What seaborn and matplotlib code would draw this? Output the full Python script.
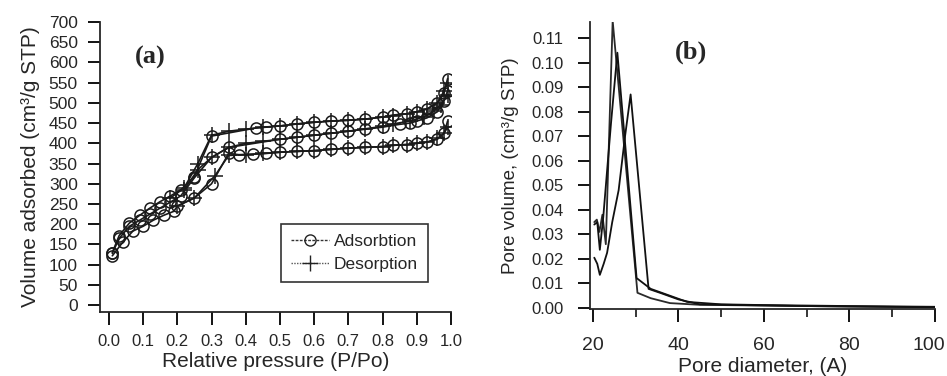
import numpy as np
import pandas as pd
import matplotlib
matplotlib.use("Agg")
import matplotlib.pyplot as plt
import matplotlib.transforms as mtransforms
import seaborn as sns
from matplotlib.lines import Line2D

# ---------------- data: panel (a) isotherms ----------------
s1_ads_p = [0.01, 0.03, 0.06, 0.09, 0.12, 0.15, 0.18, 0.21, 0.25, 0.30, 0.43, 0.46, 0.50, 0.55,
            0.60, 0.65, 0.70, 0.75, 0.80, 0.83, 0.87, 0.90, 0.93, 0.96, 0.98, 0.99]
s1_ads_v = [130, 172, 203, 222, 240, 256, 270, 285, 318, 418, 438, 440, 443, 448,
            452, 455, 457, 460, 465, 470, 473, 478, 485, 500, 525, 560]
s1_des_p = [0.99, 0.98, 0.96, 0.93, 0.90, 0.87, 0.83, 0.80, 0.75, 0.70, 0.65, 0.60, 0.55,
            0.50, 0.45, 0.40, 0.35, 0.30, 0.26, 0.22, 0.18]
s1_des_v = [550, 530, 500, 485, 478, 473, 468, 465, 460, 457, 455, 452, 448,
            443, 440, 435, 430, 420, 350, 290, 265]

s2_ads_p = [0.01, 0.03, 0.06, 0.09, 0.12, 0.15, 0.18, 0.21, 0.25, 0.30, 0.35, 0.50, 0.55,
            0.60, 0.65, 0.70, 0.75, 0.80, 0.85, 0.88, 0.90, 0.93, 0.96, 0.98, 0.99]
s2_ads_v = [128, 165, 195, 210, 225, 240, 255, 270, 315, 365, 390, 410, 415,
            420, 425, 430, 435, 440, 447, 450, 455, 463, 478, 505, 530]
s2_des_p = [0.99, 0.97, 0.95, 0.92, 0.88, 0.83, 0.80, 0.75, 0.70, 0.65, 0.60, 0.55, 0.50,
            0.45, 0.40, 0.35, 0.30, 0.26, 0.22]
s2_des_v = [520, 495, 480, 465, 455, 448, 442, 436, 430, 425, 420, 415, 410,
            405, 400, 390, 365, 335, 285]

s3_ads_p = [0.01, 0.04, 0.07, 0.10, 0.13, 0.16, 0.19, 0.20, 0.25, 0.30, 0.35, 0.38, 0.42,
            0.46, 0.50, 0.55, 0.60, 0.65, 0.70, 0.75, 0.80, 0.83, 0.87, 0.90, 0.93, 0.96,
            0.98, 0.99]
s3_ads_v = [122, 155, 183, 195, 210, 222, 232, 245, 265, 300, 375, 372, 373,
            375, 378, 380, 382, 385, 388, 390, 392, 395, 397, 400, 403, 410,
            425, 455]
s3_des_p = [0.99, 0.98, 0.96, 0.93, 0.90, 0.87, 0.83, 0.80, 0.75, 0.70, 0.65, 0.60, 0.55,
            0.50, 0.45, 0.40, 0.35, 0.31, 0.25, 0.20]
s3_des_v = [440, 425, 412, 403, 400, 397, 395, 392, 390, 388, 385, 382, 380,
            378, 375, 372, 370, 320, 265, 245]

# ---------------- data: panel (b) pore size distributions ----------------
b1_d = [20.3, 20.9, 21.5, 22.2, 23.0, 24.6, 30.4, 33.5, 38.0, 45.0, 60.0, 80.0, 100.0]
b1_v = [0.035, 0.036, 0.031, 0.038, 0.026, 0.117, 0.0062, 0.0040, 0.0020, 0.0013, 0.0010, 0.0006, 0.0004]
b2_d = [20.3, 21.0, 21.6, 22.4, 24.2, 25.7, 30.2, 33.5, 38.0, 42.0, 50.0, 60.0, 80.0, 100.0]
b2_v = [0.034, 0.035, 0.0237, 0.037, 0.075, 0.104, 0.0122, 0.0078, 0.0050, 0.0025, 0.0015, 0.0012, 0.0008, 0.0005]
b3_d = [20.3, 21.0, 21.6, 22.5, 23.3, 24.5, 26.0, 27.5, 28.8, 33.0, 36.0, 40.0, 45.0, 55.0, 70.0, 100.0]
b3_v = [0.0205, 0.018, 0.0135, 0.018, 0.0225, 0.035, 0.048, 0.070, 0.087, 0.0078, 0.0060, 0.0035, 0.0015, 0.0012, 0.0008, 0.0003]

a_yticks = list(range(0, 701, 50))
a_xticks = [round(0.1 * i, 1) for i in range(11)]
b_yticks = [round(0.01 * i, 2) for i in range(12)]
b_xticks = [20, 40, 60, 80, 100]
legend_labels = ["Adsorbtion", "Desorption"]

# ---------------- style ----------------
sns.set_style("ticks")
plt.rcParams["font.family"] = ["Liberation Sans", "DejaVu Sans"]
plt.rcParams["axes.linewidth"] = 1.3
plt.rcParams["xtick.major.width"] = 1.3
plt.rcParams["ytick.major.width"] = 1.3

fig = plt.figure(figsize=(9.47, 3.76), dpi=100)
axA = fig.add_axes([100 / 947, 1 - 312 / 376, 351 / 947, 290 / 376])
axB = fig.add_axes([590 / 947, 1 - 309 / 376, 345 / 947, 287 / 376])

line_col = "#1a1a1a"
for ads_p, ads_v, des_p, des_v in [(s1_ads_p, s1_ads_v, s1_des_p, s1_des_v),
                                   (s2_ads_p, s2_ads_v, s2_des_p, s2_des_v),
                                   (s3_ads_p, s3_ads_v, s3_des_p, s3_des_v)]:
    dfa = pd.DataFrame({"p": ads_p, "v": ads_v})
    dfd = pd.DataFrame({"p": des_p, "v": des_v})
    sns.lineplot(data=dfa, x="p", y="v", ax=axA, sort=False, estimator=None, color=line_col,
                 linewidth=1.2, marker="o", markersize=8, markerfacecolor="none",
                 markeredgecolor=line_col, markeredgewidth=1.1)
    sns.lineplot(data=dfd, x="p", y="v", ax=axA, sort=False, estimator=None, color=line_col,
                 linewidth=1.2, marker="+", markersize=11, markeredgecolor=line_col,
                 markeredgewidth=1.1)

axA.set_xlim(-0.026, 1.0)
axA.set_ylim(-17, 700)
axA.set_xticks(a_xticks)
axA.set_xticklabels([f"{t:.1f}" for t in a_xticks])
axA.set_yticks(a_yticks)
axA.set_yticklabels([str(t) for t in a_yticks])
axA.set_xlabel("Relative pressure (P/Po)", fontsize=15, labelpad=2)
axA.set_ylabel("Volume adsorbed (cm³/g STP)", fontsize=15, labelpad=6)
axA.tick_params(axis="both", length=9, pad=7, color="black")
axA.tick_params(axis="x", labelsize=12)
axA.tick_params(axis="y", labelsize=12.5)
sns.despine(ax=axA)
axA.text(0.12, 613, "(a)", fontsize=19, fontweight="bold", family="Liberation Serif",
         ha="center", va="center")

handles = [Line2D([], [], color="#333333", lw=1.0, ls=(0, (2, 1)), marker="o", markersize=8,
                  markerfacecolor="none", markeredgecolor="#222222"),
           Line2D([], [], color="#555555", lw=1.0, ls=(0, (1, 1)), marker="+", markersize=11,
                  markeredgecolor="#222222")]
leg = axA.legend(handles, legend_labels, loc="lower right", bbox_to_anchor=(0.958, 0.075),
                 fontsize=12.5, frameon=True, fancybox=False, edgecolor="black",
                 handlelength=2.2, handletextpad=0.3, borderpad=0.55, labelspacing=0.45)
leg.get_frame().set_linewidth(1.2)

for d, v, c in [(b1_d, b1_v, "#2a2a2a"), (b2_d, b2_v, "#111111"), (b3_d, b3_v, "#111111")]:
    dfb = pd.DataFrame({"d": d, "v": v})
    sns.lineplot(data=dfb, x="d", y="v", ax=axB, sort=False, estimator=None, color=c,
                 linewidth=1.3)

axB.set_xlim(19.3, 100)
axB.set_ylim(-0.0004, 0.1165)
axB.set_xticks(b_xticks)
axB.set_xticks([30, 50, 70, 90], minor=True)
axB.set_yticks(b_yticks)
axB.set_yticklabels([f"{t:.2f}" for t in b_yticks])
axB.set_xlabel("Pore diameter, (A)", fontsize=15, labelpad=2)
axB.set_ylabel("Pore volume, (cm³/g STP)", fontsize=13.5, labelpad=9)
axB.tick_params(axis="both", which="major", length=9, color="black")
axB.tick_params(axis="x", which="major", labelsize=14, pad=11)
axB.tick_params(axis="y", which="major", labelsize=12, pad=10)
axB.tick_params(axis="x", which="minor", length=6, width=1.1, color="black")
sns.despine(ax=axB)
axB.text(42.9, 0.104, "(b)", fontsize=19, fontweight="bold", family="Liberation Serif",
         ha="center", va="center")

# shift the last x tick label slightly left so it stays inside the figure
last = axB.get_xticklabels()[-1]
last.set_transform(last.get_transform() +
                   mtransforms.ScaledTranslation(-6 / 100, 0, fig.dpi_scale_trans))

fig.savefig("out.png", dpi=100)
